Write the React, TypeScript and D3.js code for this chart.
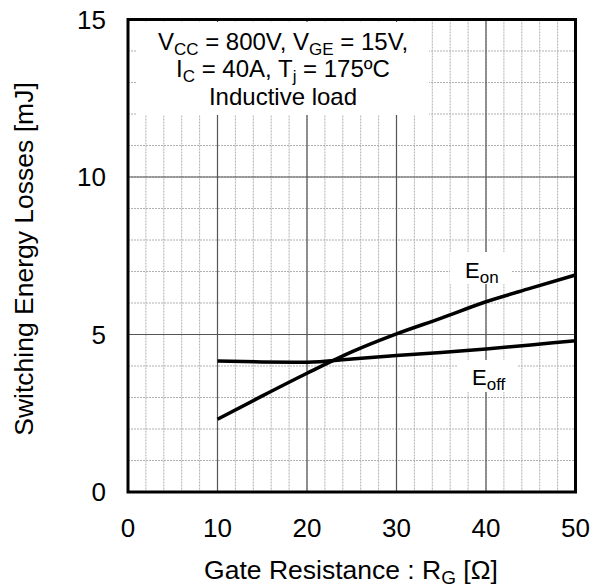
import React from "react";
import * as d3 from "d3";

const rg = [10, 15, 20, 25, 30, 35, 40, 45, 50];
const eon = [2.31, 3.05, 3.77, 4.45, 5.02, 5.52, 6.04, 6.47, 6.89];
const eoff = [4.16, 4.13, 4.12, 4.22, 4.33, 4.43, 4.54, 4.67, 4.8];
const xTicks = [0, 10, 20, 30, 40, 50];
const yTicks = [0, 5, 10, 15];
const xMinor = d3.range(0, 51, 2);
const yMinor = d3.range(0, 16, 1);

const W = 601, H = 587;
const L = 128, R = 575.5, T = 19.5, B = 492;
const FONT = "'Liberation Sans', Arial, sans-serif";

export default function App() {
  const x = d3.scaleLinear().domain([0, 50]).range([L, R]);
  const y = d3.scaleLinear().domain([0, 15]).range([B, T]);
  const line = d3
    .line<number>()
    .x((_, i) => x(rg[i]))
    .y((d) => y(d))
    .curve(d3.curveMonotoneX);

  return (
    <svg width={W} height={H} style={{ position: "absolute", left: 0, top: 0, background: "#fff" }} fontFamily={FONT}>
      <rect x={0} y={0} width={W} height={H} fill="#fff" />
      {xMinor.map((v) => (
        <line key={"xm" + v} x1={x(v)} x2={x(v)} y1={T} y2={B} stroke="#b0b0b0" strokeWidth={1} strokeDasharray="2,1" />
      ))}
      {yMinor.map((v) => (
        <line key={"ym" + v} x1={L} x2={R} y1={y(v)} y2={y(v)} stroke="#b0b0b0" strokeWidth={1} strokeDasharray="2,1" />
      ))}
      {xTicks.map((v) => (
        <line key={"xM" + v} x1={x(v)} x2={x(v)} y1={T} y2={B} stroke="#555" strokeWidth={1.2} />
      ))}
      {yTicks.map((v) => (
        <line key={"yM" + v} x1={L} x2={R} y1={y(v)} y2={y(v)} stroke="#555" strokeWidth={1.2} />
      ))}
      {/* annotation box */}
      <rect x={137} y={22} width={292} height={93} fill="#fff" />
      <text x={283} y={50} textAnchor="middle" fontSize={24} fill="#000">
        V<tspan fontSize={17} dy={5}>CC</tspan>
        <tspan dy={-5}> = 800V, V</tspan>
        <tspan fontSize={17} dy={5}>GE</tspan>
        <tspan dy={-5}> = 15V,</tspan>
      </text>
      <text x={283} y={77} textAnchor="middle" fontSize={24} fill="#000">
        I<tspan fontSize={17} dy={5}>C</tspan>
        <tspan dy={-5}> = 40A, T</tspan>
        <tspan fontSize={17} dy={5}>j</tspan>
        <tspan dy={-5}> = 175ºC</tspan>
      </text>
      <text x={283} y={105} textAnchor="middle" fontSize={24} fill="#000">
        Inductive load
      </text>
      {/* curves */}
      <path d={line(eoff) || ""} fill="none" stroke="#000" strokeWidth={3.5} />
      <path d={line(eon) || ""} fill="none" stroke="#000" strokeWidth={3.5} />
      {/* curve labels */}
      <rect x={450} y={252} width={62} height={32} fill="#fff" />
      <text x={465} y={278} fontSize={22} fill="#000">
        E<tspan fontSize={17} dy={5}>on</tspan>
      </text>
      <rect x={458} y={360} width={60} height={32} fill="#fff" />
      <text x={472} y={385} fontSize={22} fill="#000">
        E<tspan fontSize={17} dy={5}>off</tspan>
      </text>
      {/* frame */}
      <rect x={L} y={T} width={R - L} height={B - T} fill="none" stroke="#000" strokeWidth={3} />
      {/* tick labels */}
      {xTicks.map((v) => (
        <text key={"xl" + v} x={x(v)} y={536.5} textAnchor="middle" fontSize={26} fill="#000">
          {v}
        </text>
      ))}
      {yTicks.map((v) => (
        <text key={"yl" + v} x={106} y={y(v) + 9.3} textAnchor="end" fontSize={26} fill="#000">
          {v}
        </text>
      ))}
      {/* axis titles */}
      <text x={351} y={579} textAnchor="middle" fontSize={26.5} fill="#000">
        Gate Resistance : R<tspan fontSize={19} dy={5}>G</tspan>
        <tspan dy={-5}> [Ω]</tspan>
      </text>
      <text transform="translate(33,259) rotate(-90)" textAnchor="middle" fontSize={26.5} fill="#000">
        Switching Energy Losses [mJ]
      </text>
    </svg>
  );
}
